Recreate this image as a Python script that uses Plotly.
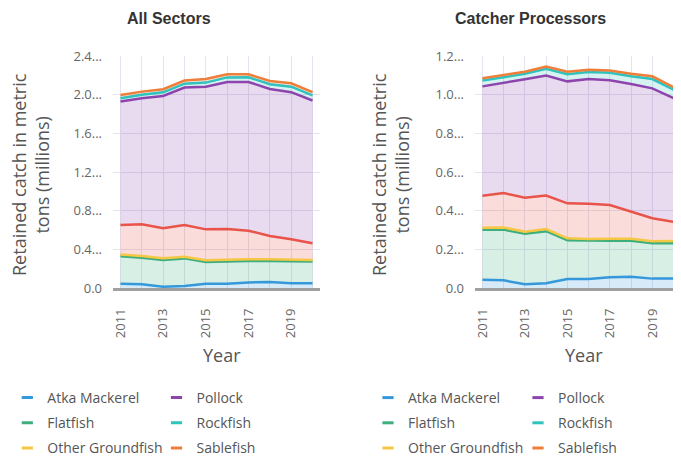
import plotly.graph_objects as go

# The page body has an 8px margin, so the figure is drawn 8px right/down.
OFF = 8
W, H = 681 - OFF, 456 - OFF

years = [2011, 2012, 2013, 2014, 2015, 2016, 2017, 2018, 2019, 2020]
year_labels = ["2011", "", "2013", "", "2015", "", "2017", "", "2019", ""]

species = ["Atka Mackerel", "Flatfish", "Other Groundfish", "Pacific Cod",
           "Pollock", "Rockfish", "Sablefish"]
# legend entries visible in the reference (Pacific Cod's row falls below the frame)
legend_visible = [True, True, True, False, True, True, True]

# All Sectors (millions of metric tons)
all_atka = [0.048, 0.041, 0.016, 0.024, 0.048, 0.048, 0.061, 0.065, 0.052, 0.052]
all_flatfish = [0.282, 0.275, 0.276, 0.285, 0.225, 0.231, 0.220, 0.216, 0.224, 0.224]
all_other = [0.018, 0.018, 0.018, 0.018, 0.017, 0.017, 0.018, 0.018, 0.017, 0.017]
all_cod = [0.306, 0.327, 0.310, 0.327, 0.319, 0.317, 0.296, 0.241, 0.213, 0.173]
all_pollock = [1.275, 1.302, 1.367, 1.420, 1.474, 1.519, 1.537, 1.519, 1.520, 1.474]
all_rockfish = [0.035, 0.037, 0.038, 0.040, 0.042, 0.047, 0.048, 0.050, 0.057, 0.054]
all_sablefish = [0.034, 0.032, 0.032, 0.033, 0.037, 0.033, 0.032, 0.033, 0.035, 0.032]

# Catcher Processors
cp_atka = [0.044, 0.041, 0.021, 0.026, 0.048, 0.048, 0.057, 0.060, 0.050, 0.050]
cp_flatfish = [0.259, 0.262, 0.261, 0.269, 0.200, 0.197, 0.188, 0.185, 0.183, 0.183]
cp_other = [0.010, 0.011, 0.010, 0.011, 0.010, 0.010, 0.011, 0.011, 0.010, 0.011]
cp_cod = [0.165, 0.178, 0.176, 0.173, 0.181, 0.182, 0.174, 0.141, 0.119, 0.099]
cp_pollock = [0.565, 0.571, 0.612, 0.620, 0.630, 0.644, 0.645, 0.658, 0.671, 0.639]
cp_rockfish = [0.030, 0.029, 0.028, 0.035, 0.037, 0.036, 0.038, 0.040, 0.048, 0.044]
cp_sablefish = [0.012, 0.011, 0.011, 0.012, 0.013, 0.012, 0.012, 0.013, 0.014, 0.013]

left_vals = [all_atka, all_flatfish, all_other, all_cod, all_pollock, all_rockfish, all_sablefish]
right_vals = [cp_atka, cp_flatfish, cp_other, cp_cod, cp_pollock, cp_rockfish, cp_sablefish]

left_ticks = [0, 0.4, 0.8, 1.2, 1.6, 2.0, 2.4]
left_ticktext = ["0.0", "0.4...", "0.8...", "1.2...", "1.6...", "2.0...", "2.4..."]
right_ticks = [0, 0.2, 0.4, 0.6, 0.8, 1.0, 1.2]
right_ticktext = ["0.0", "0.2...", "0.4...", "0.6...", "0.8...", "1.0...", "1.2..."]

colors = ["#3498db", "#3dae7c", "#f6c744", "#e8534a", "#8e44ad", "#30c2bd", "#ee7f3b"]


def rgba(hexc, a):
    h = hexc.lstrip("#")
    r, g, b = int(h[0:2], 16), int(h[2:4], 16), int(h[4:6], 16)
    return f"rgba({r},{g},{b},{a})"


fig = go.Figure()

for side, vals, xa, ya, legs in [("L", left_vals, "x", "y", ("legend", "legend2")),
                                 ("R", right_vals, "x2", "y2", ("legend3", "legend4"))]:
    for i, (name, v) in enumerate(zip(species, vals)):
        fig.add_trace(go.Scatter(
            x=years, y=v, name=name, xaxis=xa, yaxis=ya,
            stackgroup=side, mode="lines",
            line=dict(color=colors[i], width=2.5),
            fillcolor=rgba(colors[i], 0.2),
            legendgroup=f"{side}_{name}", showlegend=False,
        ))
    for i, name in enumerate(species):
        fig.add_trace(go.Scatter(
            x=[None], y=[None], name=name, xaxis=xa, yaxis=ya,
            mode="markers",
            marker=dict(symbol="line-ew", size=8, color=colors[i],
                        line=dict(color=colors[i], width=3)),
            legendgroup=f"{side}_{name}", showlegend=legend_visible[i],
            legend=legs[0] if i < 4 else legs[1],
        ))


def px_x(p):
    return (p - OFF) / W


def px_y(p):
    return 1 - (p - OFF) / H


ydom = [px_y(288.3), px_y(56)]
axis_common = dict(showgrid=True, gridcolor="#e4e4ee", gridwidth=1, zeroline=False,
                   tickfont=dict(size=13, color="#666"), ticks="")

fig.update_layout(
    width=W, height=H,
    margin=dict(l=0, r=0, t=0, b=0, autoexpand=False),
    paper_bgcolor="white", plot_bgcolor="white",
    font=dict(family="Open Sans", color="#555"),
    xaxis=dict(domain=[px_x(113), px_x(320)], range=[2010.65, 2020.35], anchor="y",
               tickvals=years, ticktext=year_labels, tickangle=-90,
               showline=True, linecolor="#a0a0a0", linewidth=3,
               ticklabelstandoff=12, **axis_common),
    yaxis=dict(domain=ydom, range=[0, 2.4], anchor="x",
               tickvals=left_ticks, ticktext=left_ticktext,
               ticklabelstandoff=10, **axis_common),
    xaxis2=dict(domain=[px_x(475), 1.0], range=[2010.65, 2020.35], anchor="y2",
                tickvals=years, ticktext=year_labels, tickangle=-90,
                showline=True, linecolor="#a0a0a0", linewidth=3,
                ticklabelstandoff=12, **axis_common),
    yaxis2=dict(domain=ydom, range=[0, 1.2], anchor="x2",
                tickvals=right_ticks, ticktext=right_ticktext,
                ticklabelstandoff=10, **axis_common),
)

leg_common = dict(xanchor="left", yanchor="top", y=px_y(382), orientation="v",
                  bgcolor="rgba(0,0,0,0)", font=dict(size=14, color="#555"),
                  traceorder="grouped", tracegroupgap=4)
fig.update_layout(
    legend=dict(x=px_x(7.3), **leg_common),
    legend2=dict(x=px_x(156.5), **leg_common),
    legend3=dict(x=px_x(368), **leg_common),
    legend4=dict(x=px_x(518), **leg_common),
)

annotations = [
    dict(text="<b>All Sectors</b>", x=px_x(168.5), y=px_y(19),
         font=dict(family="Liberation Sans", size=16, color="#333")),
    dict(text="<b>Catcher Processors</b>", x=px_x(530), y=px_y(19),
         font=dict(family="Liberation Sans", size=16, color="#333")),
    dict(text="Year", x=px_x(222), y=px_y(355), font=dict(size=18, color="#555")),
    dict(text="Year", x=px_x(584), y=px_y(355), font=dict(size=18, color="#555")),
    dict(text="Retained catch in metric<br>tons (millions)", x=px_x(30), y=px_y(175),
         textangle=-90, font=dict(size=18, color="#555")),
    dict(text="Retained catch in metric<br>tons (millions)", x=px_x(390), y=px_y(175),
         textangle=-90, font=dict(size=18, color="#555")),
]
for a in annotations:
    a.update(xref="paper", yref="paper", showarrow=False, xanchor="center", yanchor="middle")
fig.update_layout(annotations=annotations)

fig.write_html("out.html")
